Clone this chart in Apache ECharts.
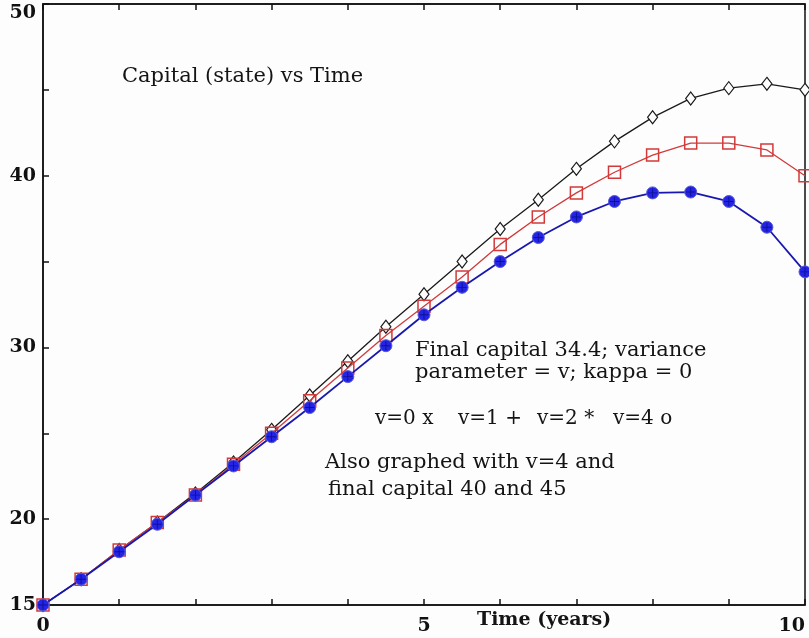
<!DOCTYPE html>
<html>
<head>
<meta charset="utf-8">
<script src="https://cdn.jsdelivr.net/npm/echarts@6/dist/echarts.min.js"></script>
<style>
  html, body { margin: 0; padding: 0; background: #fdfdfd; }
  #chart { width: 809px; height: 638px; }
</style>
</head>
<body>
<div id="chart"></div>
<script>
// Time grid (years), sampled every half year
const years = [0, 0.5, 1, 1.5, 2, 2.5, 3, 3.5, 4, 4.5, 5, 5.5, 6, 6.5, 7, 7.5, 8, 8.5, 9, 9.5, 10];

// Capital paths ending at different final capital targets
const capitalFinal45 = [15, 16.5, 18.2, 19.8, 21.5, 23.3, 25.2, 27.2, 29.2, 31.2, 33.1, 35.0, 36.9, 38.6, 40.4, 42.0, 43.4, 44.5, 45.1, 45.35, 45.0];
const capitalFinal40 = [15, 16.5, 18.2, 19.8, 21.4, 23.2, 25.0, 26.9, 28.8, 30.7, 32.4, 34.1, 36.0, 37.6, 39.0, 40.2, 41.2, 41.9, 41.9, 41.5, 40.0];
const capitalFinal344 = [15, 16.5, 18.1, 19.7, 21.4, 23.1, 24.8, 26.5, 28.3, 30.1, 31.9, 33.5, 35.0, 36.4, 37.6, 38.5, 39.0, 39.05, 38.5, 37.0, 34.4];

// Axis tick labels that are printed
const xTickLabels = [0, 5, 10];
const yTickLabels = [15, 20, 30, 40, 50];

const pairs = arr => years.map((t, i) => [t, arr[i]]);

const serif = '"DejaVu Serif", "Liberation Serif", serif';
const chart = echarts.init(document.getElementById('chart'));

const textBlock = (left, top, text, size, weight) => ({
  type: 'text', left, top,
  style: { text, font: `${weight || 'normal'} ${size}px ${serif}`, fill: '#141414' }
});

// small plus sign drawn over the blue circles
const plusPath = 'path://M-1,-10L1,-10L1,10L-1,10Z M-10,-1L10,-1L10,1L-10,1Z';

chart.setOption({
  backgroundColor: '#fdfdfd',
  animation: false,
  grid: {
    left: 43, right: 4, top: 4, bottom: 33, outerBoundsMode: 'none', containLabel: false,
    show: true, borderColor: '#111', borderWidth: 1.5, backgroundColor: 'transparent'
  },
  xAxis: [{
    type: 'value', min: 0, max: 10, interval: 1, position: 'bottom',
    axisLine: { lineStyle: { color: '#111', width: 1.5 } },
    axisTick: { inside: true, length: 6, lineStyle: { color: '#111', width: 1.5 } },
    splitLine: { show: false },
    axisLabel: {
      margin: 12,
      alignMaxLabel: 'right',
      formatter: v => xTickLabels.includes(v) ? String(v) : '',
      fontFamily: serif, fontWeight: 'bold', fontSize: 19, color: '#111'
    }
  }, {
    type: 'value', min: 0, max: 10, interval: 1, position: 'top',
    axisLine: { lineStyle: { color: '#111', width: 1.5 } },
    axisTick: { inside: true, length: 6, lineStyle: { color: '#111', width: 1.5 } },
    splitLine: { show: false },
    axisLabel: { show: false }
  }],
  yAxis: {
    type: 'value', min: 15, max: 50, interval: 5,
    axisLine: { show: true, lineStyle: { color: '#111', width: 1.5 } },
    axisTick: { show: true, inside: true, length: 6, lineStyle: { color: '#111', width: 1.5 } },
    splitLine: { show: false },
    axisLabel: {
      margin: 7,
      formatter: v => {
        if (!yTickLabels.includes(v)) return '';
        if (v === 50) return '{top|' + v + '}';
        return String(v);
      },
      rich: { top: { padding: [18, 0, 0, 0], fontFamily: serif, fontWeight: 'bold', fontSize: 19, color: '#111' } },
      fontFamily: serif, fontWeight: 'bold', fontSize: 19, color: '#111'
    }
  },
  graphic: [
    textBlock(122, 66, 'Capital (state) vs Time', 21),
    textBlock(415, 340, 'Final capital 34.4; variance', 21),
    textBlock(415, 362, 'parameter = v; kappa = 0', 21),
    textBlock(375, 409, 'v=0 x', 20),
    textBlock(458, 409, 'v=1 +', 20),
    textBlock(537, 409, 'v=2 *', 20),
    textBlock(613, 409, 'v=4 o', 20),
    textBlock(325, 452, 'Also graphed with v=4 and', 21),
    textBlock(328, 479, 'final capital 40 and 45', 21),
    textBlock(477, 611, 'Time (years)', 19, 'bold')
  ],
  series: [{
    type: 'line', data: pairs(capitalFinal45),
    symbol: 'diamond', symbolSize: [10, 13],
    lineStyle: { color: '#1a1a1a', width: 1.3 },
    itemStyle: { color: '#fdfdfd', borderColor: '#1a1a1a', borderWidth: 1.2 },
    z: 2
  }, {
    type: 'line', data: pairs(capitalFinal40),
    symbol: 'rect', symbolSize: 12,
    lineStyle: { color: '#d23a3a', width: 1.3 },
    itemStyle: { color: 'rgba(255,255,255,0)', borderColor: '#d23a3a', borderWidth: 1.5 },
    z: 3
  }, {
    type: 'line', data: pairs(capitalFinal344),
    symbol: 'circle', symbolSize: 12,
    lineStyle: { color: '#1818b0', width: 1.8 },
    itemStyle: { color: '#2424e6', borderColor: '#5a5ad0', borderWidth: 1 },
    z: 4
  }, {
    type: 'scatter', data: pairs(capitalFinal344),
    symbol: plusPath, symbolSize: 9,
    itemStyle: { color: '#0a0a80' },
    z: 5
  }]
});
</script>
</body>
</html>
